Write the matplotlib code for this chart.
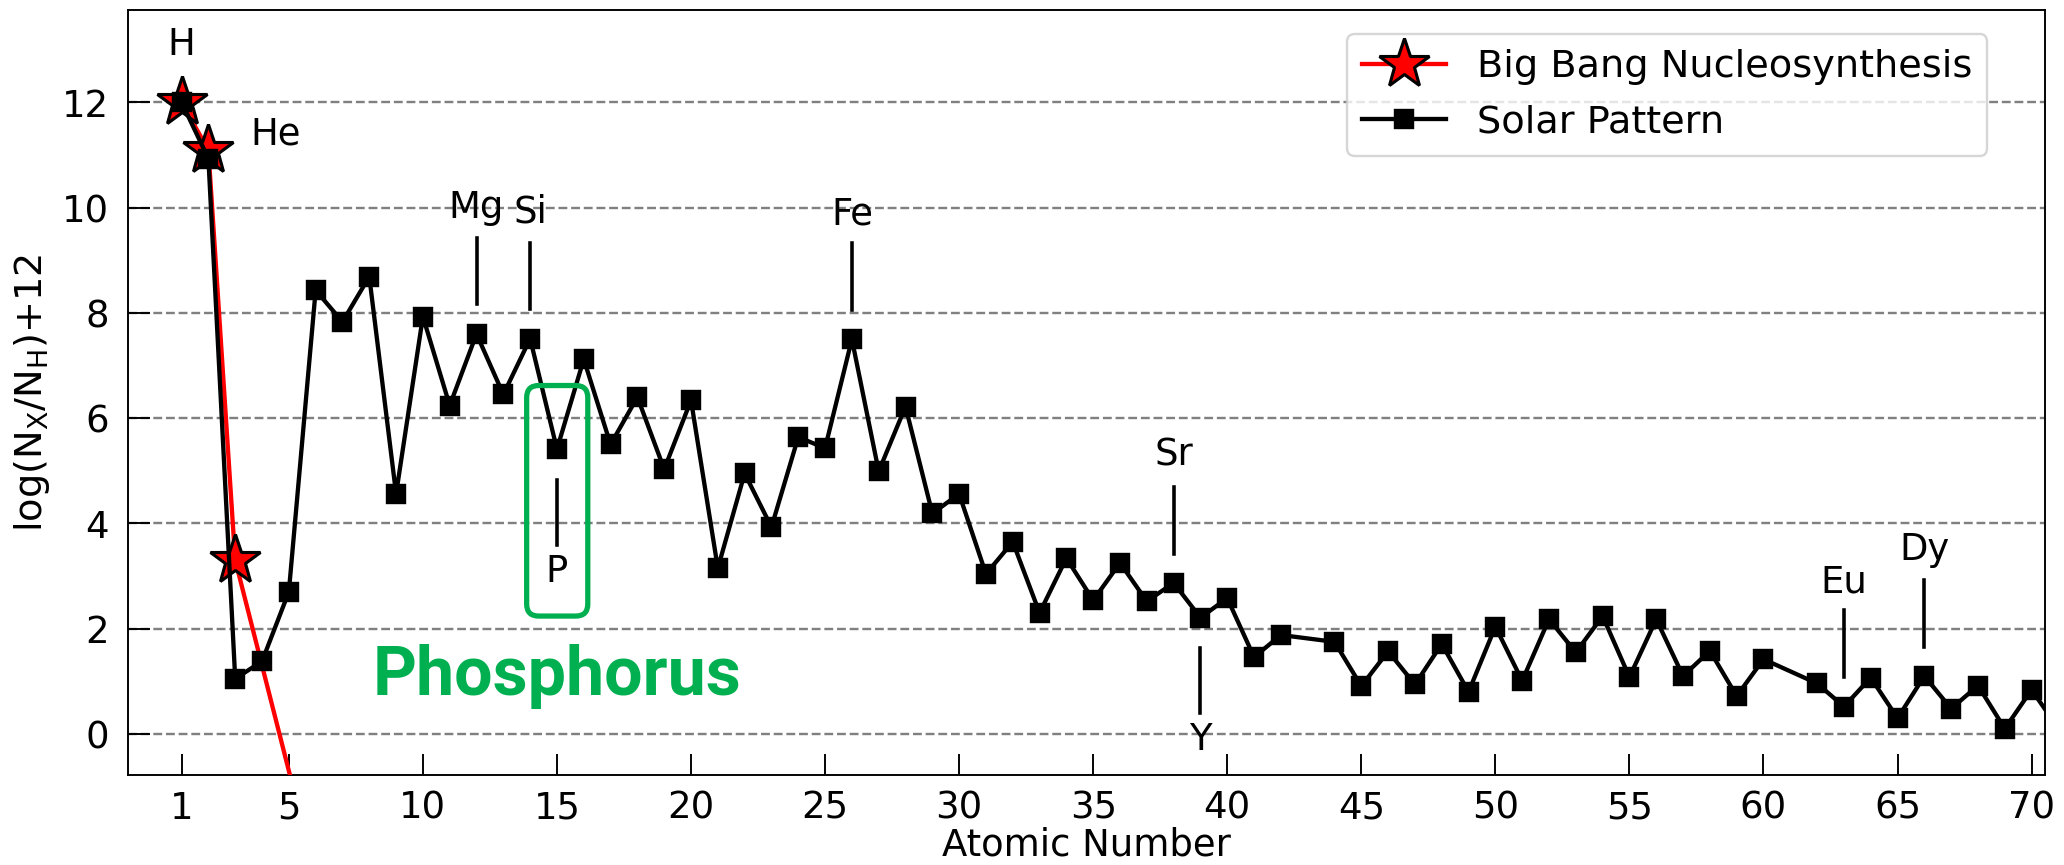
import matplotlib
matplotlib.use("Agg")
import matplotlib.pyplot as plt
from matplotlib.patches import FancyBboxPatch

# solar photospheric abundances, log(N_X/N_H)+12 (Tc and Pm have none)
atomic_number = [
    1, 2, 3, 4, 5, 6, 7, 8, 9, 10,
    11, 12, 13, 14, 15, 16, 17, 18, 19, 20,
    21, 22, 23, 24, 25, 26, 27, 28, 29, 30,
    31, 32, 33, 34, 35, 36, 37, 38, 39, 40,
    41, 42, 44, 45, 46, 47, 48, 49, 50,
    51, 52, 53, 54, 55, 56, 57, 58, 59, 60,
    62, 63, 64, 65, 66, 67, 68, 69, 70, 71,
]
solar_abundance = [
    12.00, 10.93, 1.05, 1.38, 2.70, 8.43, 7.83, 8.69, 4.56, 7.93,
    6.24, 7.60, 6.45, 7.51, 5.41, 7.12, 5.50, 6.40, 5.03, 6.34,
    3.15, 4.95, 3.93, 5.64, 5.43, 7.50, 4.99, 6.22, 4.19, 4.56,
    3.04, 3.65, 2.30, 3.34, 2.54, 3.25, 2.52, 2.87, 2.21, 2.58,
    1.46, 1.88, 1.75, 0.91, 1.57, 0.94, 1.71, 0.80, 2.04,
    1.01, 2.18, 1.55, 2.24, 1.08, 2.18, 1.10, 1.58, 0.72, 1.42,
    0.96, 0.52, 1.07, 0.30, 1.10, 0.48, 0.92, 0.10, 0.84, 0.10,
]

# primordial yields (H, He, Li); the last point lies below the plotted range
bbn_z = [1, 2, 3, 6]
bbn_abundance = [12.0, 11.09, 3.30, -2.70]
bbn_marked = [0, 1, 2]

# element labels: symbol, text x, text baseline y, tick x, tick y range
labels = ["H", "He", "Mg", "Si", "Fe", "Sr", "Y", "Eu", "Dy", "P"]
label_x = [1, 4.5, 12, 14, 26, 38, 39, 63, 66, 15]
label_y = [12.9, 11.2, 9.8, 9.72, 9.68, 5.1, -0.3, 2.7, 3.31, 2.89]
tick_z = [12, 14, 26, 38, 39, 63, 66, 15]
tick_lo = [8.17, 8.07, 8.06, 3.42, 0.40, 1.08, 1.65, 3.59]
tick_hi = [9.42, 9.33, 9.33, 4.70, 1.63, 2.36, 2.93, 4.83]

xticks = [1, 5, 10, 15, 20, 25, 30, 35, 40, 45, 50, 55, 60, 65, 70]
yticks = [0, 2, 4, 6, 8, 10, 12]

green = "#00B050"

fig = plt.figure(figsize=(12, 5.03), dpi=172)
ax = fig.add_axes([0.062, 0.104, 0.9288, 0.884])

ax.plot(bbn_z, bbn_abundance, color="red", lw=1.8, marker="*", markevery=bbn_marked,
        markersize=22, markerfacecolor="red", markeredgecolor="black", markeredgewidth=1.3,
        label="Big Bang Nucleosynthesis", zorder=3)
ax.plot(atomic_number, solar_abundance, color="black", lw=1.8, marker="s",
        markersize=7.5, label="Solar Pattern", zorder=4)

for name, x, y in zip(labels, label_x, label_y):
    ax.text(x, y, name, ha="center", va="baseline", fontsize=15.5, zorder=5)
for z, lo, hi in zip(tick_z, tick_lo, tick_hi):
    ax.plot([z, z], [lo, hi], color="black", lw=1.5, zorder=5)

ax.set_xlim(-1, 70.5)
ax.set_ylim(-0.78, 13.75)

# rounded frame around phosphorus, corners kept circular on screen
bbox = ax.get_window_extent()
px_per_x = bbox.width / 71.5
px_per_y = bbox.height / 14.53
frame = FancyBboxPatch((13.87, 2.24), 16.15 - 13.87, 6.62 - 2.24,
                       boxstyle="round,pad=0,rounding_size=0.45",
                       mutation_aspect=px_per_x / px_per_y,
                       facecolor="none", edgecolor=green, lw=2.2, zorder=6)
ax.add_patch(frame)
ax.text(15, 0.74, "Phosphorus", color=green, fontsize=28.5, fontweight="bold",
        family="Roboto", ha="center", va="baseline", zorder=6)

ax.set_xticks(xticks)
ax.set_yticks(yticks)
ax.tick_params(direction="in", length=9, width=0.8, labelsize=15.5, pad=8)
ax.tick_params(axis="x", pad=6)
ax.grid(axis="y", linestyle="--", color="gray", lw=1.0)
ax.set_axisbelow(True)
ax.set_xlabel("Atomic Number", fontsize=15.5, labelpad=0)
ax.set_ylabel(r"log(N$_{\mathrm{X}}$/N$_{\mathrm{H}}$)+12", fontsize=16)

ax.legend(loc="upper right", bbox_to_anchor=(0.970, 0.969), borderaxespad=0,
          fontsize=16, handlelength=2.2)

fig.savefig("out.png", dpi=172)
